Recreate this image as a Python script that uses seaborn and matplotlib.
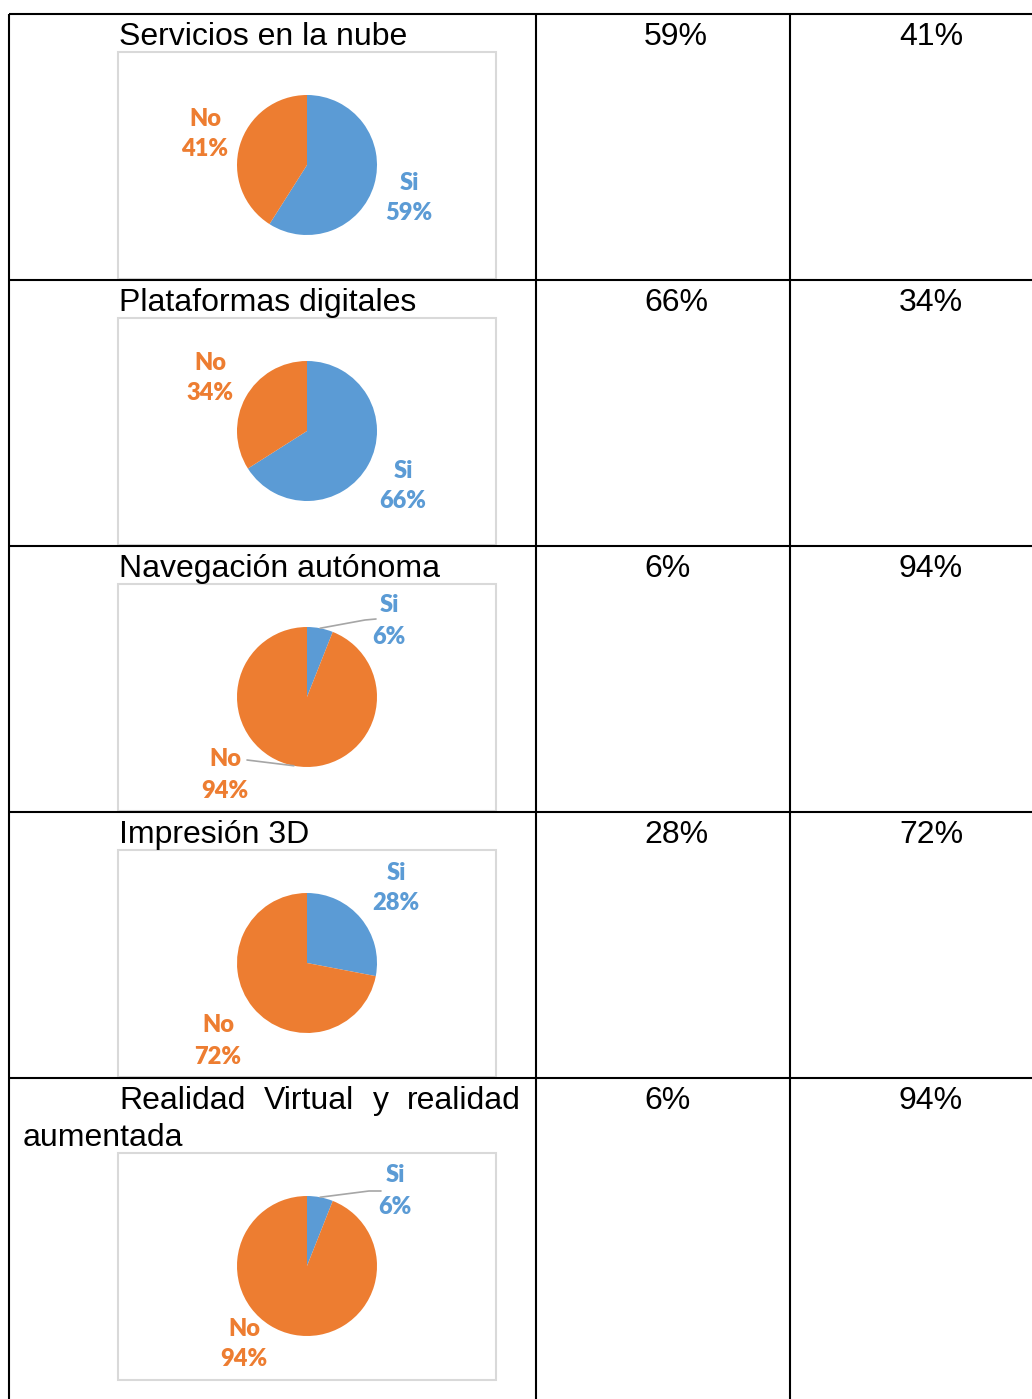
import numpy as np
import matplotlib
matplotlib.use("Agg")
import matplotlib.pyplot as plt
from matplotlib.patches import Rectangle
import seaborn as sns

# Data
categories = ["Servicios en la nube", "Plataformas digitales", "Navegación autónoma",
              "Impresión 3D", "Realidad Virtual y realidad aumentada"]
si_pct = [59, 66, 6, 28, 6]
no_pct = [41, 34, 94, 72, 94]
slice_names = ["Si", "No"]

sns.set_theme(style="white")
plt.rcParams["font.family"] = ["Liberation Sans", "DejaVu Sans"]
colors = ["#5B9BD5", "#ED7D31"]

W, H = 1032, 1399
fig = plt.figure(figsize=(W / 100, H / 100), dpi=100)
ax = fig.add_axes([0, 0, 1, 1])


def Y(y):
    # pixel row (top-down) -> data y (bottom-up)
    return H - y


# layout (pixels)
row_tops = [14, 280, 546, 812, 1078]
box_tops = [52, 318, 584, 850, 1153]
col_x = [9, 536, 790]
pct_x = [644, 899]
pie_cx, pie_r = 307, 70
# label offsets from pie centre (Si, No), in pixels, y down
label_off = [
    [(102, 33), (-102, -31)],
    [(96, 55), (-97, -53)],
    [(82, -76), (-82, 78)],
    [(89, -75), (-89, 78)],
    [(88, -75), (-63, 78)],
]
# leader lines: (row, slice) -> (anchor offset from label, kink offset or None)
leaders = {
    (2, 0): ((-13, -2), (-24, -1)),
    (2, 1): ((22, -15), None),
    (4, 0): ((-14, 0), (-26, 0)),
}

lw_table = 1.5
# table grid
for yt in row_tops:
    ax.plot([col_x[0], W], [Y(yt), Y(yt)], color="black", lw=lw_table, solid_capstyle="butt")
for xc in col_x:
    ax.plot([xc, xc], [Y(row_tops[0]), Y(H + 5)], color="black", lw=lw_table, solid_capstyle="butt")

title_kw = dict(fontsize=23, color="black", va="baseline")
label_font = ["Lato", "DejaVu Sans"]

for i, cat in enumerate(categories):
    rt = row_tops[i]
    base = Y(rt + 31)
    if i < 4:
        ax.text(119, base, cat, ha="left", **title_kw)
    else:
        # justified first line, then wrapped word
        words = cat.split()
        ax.text(119, base, words[0], ha="left", **title_kw)
        ax.text(264, base, words[1], ha="left", **title_kw)
        ax.text(373, base, words[2], ha="left", **title_kw)
        ax.text(521, base, words[3], ha="right", **title_kw)
        ax.text(23, Y(rt + 68), words[4], ha="left", **title_kw)
    ax.text(pct_x[0], base, f"{si_pct[i]}%", ha="left", **title_kw)
    ax.text(pct_x[1], base, f"{no_pct[i]}%", ha="left", **title_kw)

    bt = box_tops[i]
    ax.add_patch(Rectangle((118, Y(bt + 227)), 378, 227, fill=False,
                           edgecolor="#D9D9D9", lw=1.5))
    cy = bt + 113
    vals = [si_pct[i], no_pct[i]]
    wedges, _ = ax.pie(vals, colors=colors, startangle=90, counterclock=False,
                       radius=pie_r, center=(pie_cx, Y(cy)), frame=True,
                       wedgeprops=dict(linewidth=0))
    for j, w in enumerate(wedges):
        dx, dy = label_off[i][j]
        lx, ly = pie_cx + dx, cy + dy
        ax.text(lx, Y(ly), f"{slice_names[j]}\n{vals[j]}%", ha="center", va="center",
                fontsize=17, fontweight="heavy", color=colors[j], family=label_font,
                linespacing=1.5)
        if (i, j) in leaders:
            mid = np.deg2rad((w.theta1 + w.theta2) / 2)
            ex = pie_cx + pie_r * np.cos(mid)
            ey = Y(cy) + pie_r * np.sin(mid)
            anc, kink = leaders[(i, j)]
            xs = [lx + anc[0]]
            ys = [Y(ly + anc[1])]
            if kink is not None:
                xs.append(lx + kink[0])
                ys.append(Y(ly + kink[1]))
            xs.append(ex)
            ys.append(ey)
            ax.plot(xs, ys, color="#A6A6A6", lw=1.2)

ax.set_xlim(0, W)
ax.set_ylim(0, H)
ax.set_aspect("auto")
ax.axis("off")
fig.savefig("out.png", dpi=100)
